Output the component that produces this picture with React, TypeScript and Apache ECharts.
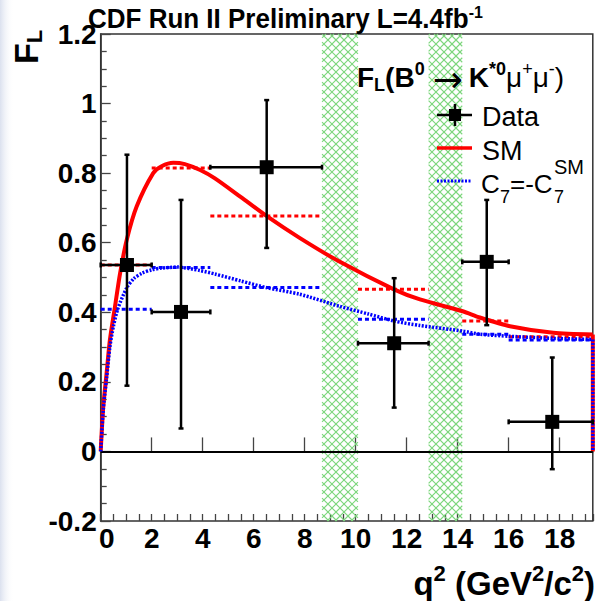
import React, { useEffect, useRef } from 'react';
import * as echarts from 'echarts';

// ---- data ----
const X_MIN = 0;
const X_MAX = 19.3;
const Y_MIN = -0.2;
const Y_MAX = 1.2;

const binLo = [0, 2, 4.3, 10.09, 14.18, 16];
const binHi = [2, 4.3, 8.68, 12.86, 16, 19.3];

const dataX = [1.03, 3.15, 6.51, 11.51, 15.14, 17.71];
const dataY = [0.536, 0.401, 0.817, 0.311, 0.545, 0.085];
const dataYHi = [0.853, 0.723, 1.01, 0.498, 0.723, 0.27];
const dataYLo = [0.189, 0.066, 0.585, 0.126, 0.363, -0.051];

const smBin = [0.536, 0.815, 0.677, 0.466, 0.375, 0.33];
const c7Bin = [0.409, 0.529, 0.471, 0.38, 0.337, 0.32];

const smCurveQ = [0, 0.1, 0.23, 0.36, 0.56, 0.76, 1.02, 1.41, 2.06, 2.39, 2.85, 3.3, 3.9, 4.48, 5.5, 6.5, 7.8, 9.38, 11.5, 12.52, 14.2, 14.87, 16.05, 17.75, 19.3];
const smCurveF = [0, 0.128, 0.224, 0.32, 0.416, 0.512, 0.608, 0.704, 0.8, 0.82, 0.83, 0.826, 0.809, 0.785, 0.731, 0.677, 0.614, 0.545, 0.466, 0.437, 0.403, 0.385, 0.36, 0.341, 0.336];

const c7CurveQ = [0, 0.1, 0.23, 0.36, 0.5, 0.67, 1.02, 1.3, 1.61, 2.0, 2.4, 3.0, 3.9, 4.48, 5.5, 6.5, 7.8, 9.38, 10.5, 11.5, 12.52, 14.2, 14.87, 16.05, 17.75, 19.3];
const c7CurveF = [0, 0.12, 0.21, 0.3, 0.36, 0.41, 0.47, 0.497, 0.512, 0.522, 0.527, 0.53, 0.52, 0.51, 0.49, 0.471, 0.452, 0.417, 0.395, 0.375, 0.362, 0.346, 0.337, 0.331, 0.325, 0.322];

const vetoLo = [8.68, 12.86];
const vetoHi = [10.09, 14.18];

const xMajorInterval = 2;
const xMinorInterval = 0.5;
const yInterval = 0.2;

const FONT = 'Liberation Sans, Arial, Helvetica, sans-serif';

function hatchLines(x0: number, y0: number, x1: number, y1: number, step: number) {
  const out: any[] = [];
  const style = { stroke: '#7cd67c', lineWidth: 1.1 };
  const cStart = Math.floor((x0 + y0) / step) * step;
  for (let c = cStart; c <= x1 + y1; c += step) {
    const xa = Math.max(x0, c - y1);
    const xb = Math.min(x1, c - y0);
    if (xb > xa) out.push({ type: 'line', shape: { x1: xa, y1: c - xa, x2: xb, y2: c - xb }, style });
  }
  const dStart = Math.floor((y0 - x1) / step) * step;
  for (let d = dStart; d <= y1 - x0; d += step) {
    const xa = Math.max(x0, y0 - d);
    const xb = Math.min(x1, y1 - d);
    if (xb > xa) out.push({ type: 'line', shape: { x1: xa, y1: xa + d, x2: xb, y2: xb + d }, style });
  }
  return out;
}

export default function App() {
  const ref = useRef<HTMLDivElement>(null);
  useEffect(() => {
    if (!ref.current) return;
    const chart = echarts.init(ref.current, undefined, { renderer: 'svg' });

    const pointData = dataX.map((x, i) => [x, dataY[i], binLo[i], binHi[i], dataYLo[i], dataYHi[i]]);
    const smBinData = binLo.map((lo, i) => [lo, binHi[i], smBin[i]]);
    const c7BinData = binLo.map((lo, i) => [lo, binHi[i], c7Bin[i]]);
    const vetoData = vetoLo.map((lo, i) => [lo, vetoHi[i]]);
    const smLine = smCurveQ.map((q, i) => [q, smCurveF[i]]);
    const c7Line = c7CurveQ.map((q, i) => [q, c7CurveF[i]]);
    const lastSm = smCurveF[smCurveF.length - 1];
    const lastC7 = c7CurveF[c7CurveF.length - 1];

    const binRender = (color: string) => (params: any, api: any) => {
      const p1 = api.coord([api.value(0), api.value(2)]);
      const p2 = api.coord([api.value(1), api.value(2)]);
      return {
        type: 'line',
        shape: { x1: p1[0], y1: p1[1], x2: p2[0], y2: p2[1] },
        style: { stroke: color, lineWidth: 3, lineDash: [4, 3] },
      };
    };

    const boldLabel = { fontSize: 28, fontWeight: 'bold', color: '#000', fontFamily: FONT };

    const txt = (t: string, x: number, y: number, size: number) => ({
      type: 'text', x, y,
      style: { text: t, fontSize: size, fontFamily: FONT, fill: '#000', verticalAlign: 'middle' },
    });

    const graphics: any[] = [
      {
        type: 'rect',
        silent: true,
        shape: { x: 0, y: 0, width: 14, height: 601 },
        style: {
          fill: new echarts.graphic.LinearGradient(0, 0, 1, 0, [
            { offset: 0, color: 'rgba(190,200,225,0.55)' },
            { offset: 1, color: 'rgba(255,255,255,0)' },
          ]),
        },
      },
      {
        type: 'text',
        x: 88,
        y: 4,
        scaleY: 1.08,
        style: {
          text: '{t|CDF Run II Preliminary L=4.4fb}{s|-1}',
          rich: {
            t: { fontSize: 26, fontWeight: 'bold', fontFamily: FONT, fill: '#000', lineHeight: 27, verticalAlign: 'bottom' },
            s: { fontSize: 16, fontWeight: 'bold', fontFamily: FONT, fill: '#000', lineHeight: 27, verticalAlign: 'top' },
          },
        },
      },
      {
        type: 'text',
        x: 27,
        y: 64,
        rotation: Math.PI / 2,
        style: {
          text: '{b|F}{s|L}',
          verticalAlign: 'middle',
          align: 'left',
          rich: {
            b: { fontSize: 34, fontWeight: 'bold', fontFamily: FONT, fill: '#000', lineHeight: 36, verticalAlign: 'top' },
            s: { fontSize: 22, fontWeight: 'bold', fontFamily: FONT, fill: '#000', lineHeight: 36, verticalAlign: 'bottom' },
          },
        },
      },
      {
        type: 'text',
        x: 595,
        y: 562,
        style: {
          text: '{b|q}{s|2}{b| (GeV}{s|2}{b|/c}{s|2}{b|)}',
          align: 'right',
          rich: {
            b: { fontSize: 33, fontWeight: 'bold', fontFamily: FONT, fill: '#000', lineHeight: 38, verticalAlign: 'bottom' },
            s: { fontSize: 22, fontWeight: 'bold', fontFamily: FONT, fill: '#000', lineHeight: 32, verticalAlign: 'top' },
          },
        },
      },
      {
        type: 'text',
        x: 357,
        y: 60,
        style: {
          text: '{b|F}{bs|L}{b|(B}{bp|0}{ar|→}{b|K}{bp|*0}{n|μ}{np|+}{n|μ}{np|-}{n|)}',
          rich: {
            b: { fontSize: 28, fontWeight: 'bold', fontFamily: FONT, fill: '#000', lineHeight: 34, verticalAlign: 'middle' },
            bs: { fontSize: 18, fontWeight: 'bold', fontFamily: FONT, fill: '#000', lineHeight: 34, verticalAlign: 'bottom' },
            bp: { fontSize: 18, fontWeight: 'bold', fontFamily: FONT, fill: '#000', lineHeight: 34, verticalAlign: 'top' },
            ar: { fontSize: 36, fontFamily: 'DejaVu Sans', fill: '#000', lineHeight: 34, verticalAlign: 'middle', padding: [4, 6, 0, 8] },
            n: { fontSize: 28, fontFamily: FONT, fill: '#000', lineHeight: 34, verticalAlign: 'middle' },
            np: { fontSize: 18, fontFamily: FONT, fill: '#000', lineHeight: 34, verticalAlign: 'top' },
          },
        },
      },
      // legend: Data
      { type: 'line', shape: { x1: 437, y1: 115, x2: 472, y2: 115 }, style: { stroke: '#000', lineWidth: 2.5 } },
      { type: 'line', shape: { x1: 455, y1: 104, x2: 455, y2: 126 }, style: { stroke: '#000', lineWidth: 2.5 } },
      { type: 'rect', shape: { x: 449, y: 109, width: 12, height: 12 }, style: { fill: '#000' } },
      txt('Data', 482, 117, 27),
      // legend: SM
      { type: 'line', shape: { x1: 437, y1: 148, x2: 472, y2: 148 }, style: { stroke: '#ff0000', lineWidth: 3.5 } },
      txt('SM', 482, 151, 27),
      // legend: C7
      { type: 'line', shape: { x1: 437, y1: 181, x2: 472, y2: 181 }, style: { stroke: '#0000ff', lineWidth: 3, lineDash: [2, 1.5] } },
      txt('C', 481, 184, 26),
      txt('7', 500, 197, 18),
      txt('=-C', 510, 184, 26),
      txt('7', 554, 197, 18),
      txt('SM', 554, 167, 20),
    ].map((g) => ({ ...g, z: 100 }));

    const option: any = {
      animation: false,
      backgroundColor: '#ffffff',
      grid: {
        left: 100.7,
        right: 3.2,
        top: 34,
        bottom: 80,
        show: true,
        borderColor: '#333',
        borderWidth: 1.5,
        backgroundColor: 'transparent',
      },
      xAxis: [
        {
          type: 'value',
          min: X_MIN,
          max: X_MAX,
          interval: xMajorInterval,
          axisLine: { show: true, lineStyle: { color: '#333', width: 1.5 } },
          axisTick: { show: true, inside: true, length: 14, lineStyle: { color: '#444', width: 1.3 } },
          splitLine: { show: false },
          axisLabel: {
            ...boldLabel,
            margin: 3,
            formatter: (v: number) => {
              if (Math.abs(v % 2) > 1e-6) return '';
              if (v === 0) return '{z|0}';
              return String(v);
            },
            rich: { z: { ...boldLabel, padding: [0, 0, 0, 12] } },
          },
        },
        {
          type: 'value',
          min: X_MIN,
          max: X_MAX,
          interval: xMinorInterval,
          position: 'bottom',
          axisLine: { show: false },
          axisTick: { show: true, inside: true, length: 7, lineStyle: { color: '#444', width: 1.3 } },
          splitLine: { show: false },
          axisLabel: { show: false },
        },
      ],
      yAxis: {
        type: 'value',
        min: Y_MIN,
        max: Y_MAX,
        interval: yInterval,
        axisLine: { show: true, lineStyle: { color: '#333', width: 1.5 } },
        axisTick: { show: true, inside: true, length: 10, lineStyle: { color: '#444', width: 1.3 } },
        minorTick: { show: true, splitNumber: 4, length: 6, lineStyle: { color: '#444', width: 1.3 } },
        splitLine: { show: false },
        axisLabel: { ...boldLabel, margin: 4 },
      },
      series: [
        {
          type: 'custom',
          name: 'veto',
          z: 1,
          silent: true,
          data: vetoData,
          encode: { x: [0, 1] },
          renderItem: (params: any, api: any) => {
            const a = api.coord([api.value(0), Y_MAX]);
            const b = api.coord([api.value(1), Y_MIN]);
            return { type: 'group', children: hatchLines(a[0], a[1], b[0], b[1], 8) };
          },
        },
        {
          type: 'custom',
          name: 'SM bins',
          z: 3,
          silent: true,
          data: smBinData,
          encode: { x: [0, 1], y: 2 },
          renderItem: binRender('#ff0000'),
          markLine: {
            silent: true,
            symbol: 'none',
            label: { show: false },
            lineStyle: { color: '#000', width: 2, type: 'solid' },
            data: [{ yAxis: 0 }],
          },
        },
        {
          type: 'custom',
          name: 'C7 bins',
          z: 3,
          silent: true,
          data: c7BinData,
          encode: { x: [0, 1], y: 2 },
          renderItem: binRender('#0000ff'),
        },
        {
          type: 'line',
          name: 'SM',
          z: 4,
          data: smLine,
          showSymbol: false,
          smooth: 0.25,
          lineStyle: { color: '#ff0000', width: 4 },
        },
        {
          type: 'line',
          name: 'SM edge',
          z: 4,
          data: [[X_MAX, lastSm], [X_MAX, 0]],
          showSymbol: false,
          lineStyle: { color: '#ff0000', width: 4 },
        },
        {
          type: 'line',
          name: 'C7',
          z: 5,
          data: c7Line,
          showSymbol: false,
          smooth: 0.25,
          lineStyle: { color: '#0000ff', width: 3.5, type: [2, 1.5] },
        },
        {
          type: 'line',
          name: 'C7 edge',
          z: 5,
          data: [[X_MAX, lastC7], [X_MAX, 0]],
          showSymbol: false,
          lineStyle: { color: '#0000ff', width: 3.5, type: [2, 1.5] },
        },
        {
          type: 'custom',
          name: 'Data',
          z: 6,
          data: pointData,
          encode: { x: 0, y: 1 },
          renderItem: (params: any, api: any) => {
            const x = api.value(0);
            const y = api.value(1);
            const c = api.coord([x, y]);
            const l = api.coord([api.value(2), y]);
            const r = api.coord([api.value(3), y]);
            const b = api.coord([x, api.value(4)]);
            const t = api.coord([x, api.value(5)]);
            const st = { stroke: '#000', lineWidth: 2.5 };
            const cap = 2.5;
            return {
              type: 'group',
              children: [
                { type: 'line', shape: { x1: l[0], y1: c[1], x2: r[0], y2: c[1] }, style: st },
                { type: 'line', shape: { x1: c[0], y1: t[1], x2: c[0], y2: b[1] }, style: st },
                { type: 'line', shape: { x1: l[0], y1: c[1] - cap, x2: l[0], y2: c[1] + cap }, style: st },
                { type: 'line', shape: { x1: r[0], y1: c[1] - cap, x2: r[0], y2: c[1] + cap }, style: st },
                { type: 'line', shape: { x1: c[0] - cap, y1: t[1], x2: c[0] + cap, y2: t[1] }, style: st },
                { type: 'line', shape: { x1: c[0] - cap, y1: b[1], x2: c[0] + cap, y2: b[1] }, style: st },
                { type: 'rect', shape: { x: c[0] - 7, y: c[1] - 7, width: 14, height: 14 }, style: { fill: '#000' } },
              ],
            };
          },
        },
      ],
      graphic: graphics,
    };

    chart.setOption(option);
    return () => chart.dispose();
  }, []);

  return <div ref={ref} style={{ position: 'absolute', left: 0, top: 0, width: 596, height: 601, background: '#fff' }} />;
}
